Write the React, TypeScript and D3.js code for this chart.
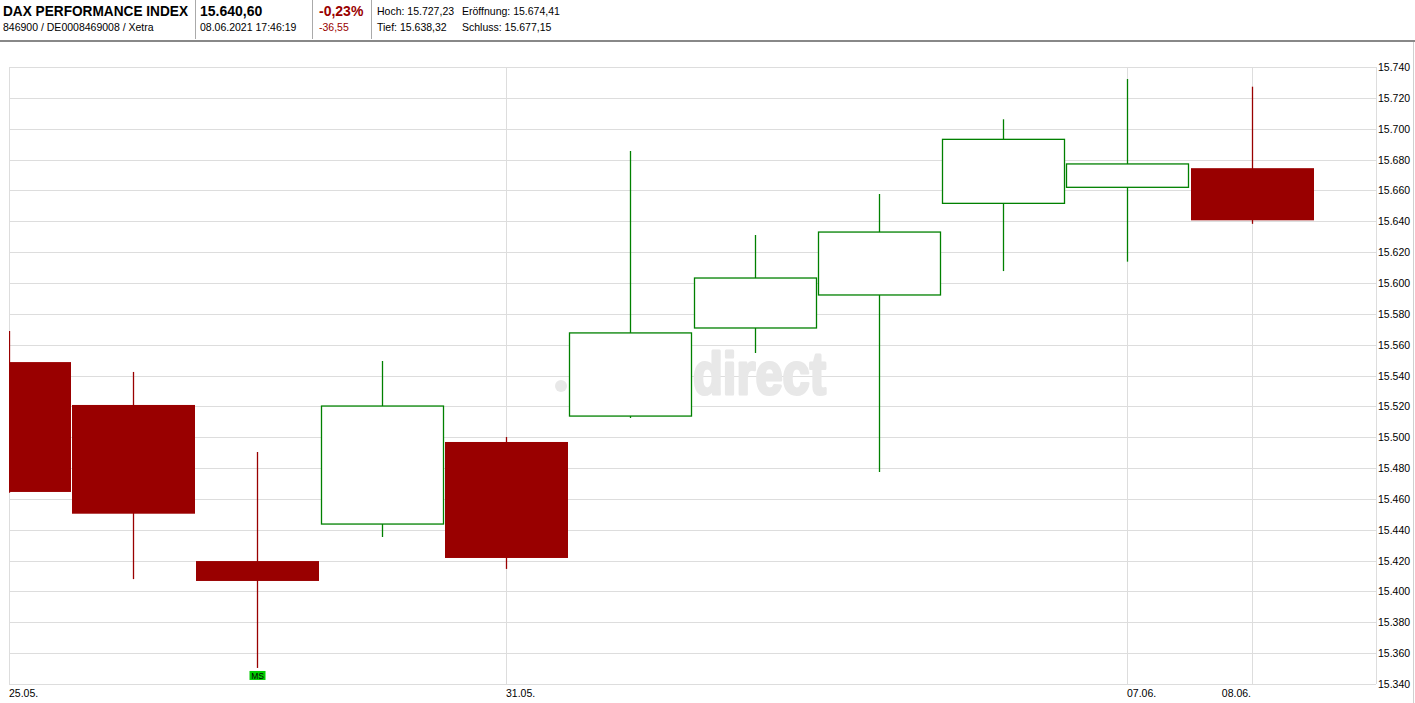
import React from 'react';
import * as d3 from 'd3';

const dates = ['25.05.', '26.05.', '27.05.', '28.05.', '31.05.', '01.06.', '02.06.', '03.06.', '04.06.', '07.06.', '08.06.'];
const opens = [15548.7, 15520.9, 15419.7, 15443.7, 15496.9, 15513.7, 15570.8, 15592.2, 15651.6, 15662.0, 15674.41];
const highs = [15568.8, 15542.3, 15490.4, 15549.4, 15500.1, 15685.5, 15631.1, 15657.7, 15706.1, 15732.2, 15727.23];
const lows = [15464.0, 15408.0, 15350.4, 15435.3, 15414.6, 15512.4, 15554.6, 15477.4, 15607.7, 15613.8, 15638.32];
const closes = [15464.5, 15450.4, 15406.8, 15520.2, 15421.7, 15567.6, 15603.2, 15633.0, 15693.1, 15677.15, 15640.6];
const tickDates = ['25.05.', '31.05.', '07.06.', '08.06.'];
const yTickValues = d3.range(15340, 15741, 20);
const markerDate = '27.05.';
const markerLabel = 'MS';

const FONT = '"Liberation Sans", Arial, sans-serif';
const RED = '#990000';
const GREEN = '#008000';

export default function App() {
  const W = 1415;
  const H = 703;
  const left = 9;
  const right = 1376;
  const top = 67;
  const bottom = 684;

  const x = d3.scaleLinear().domain([0, dates.length - 1]).range([8.9, 1251.7]);
  const y = d3.scaleLinear().domain([15340, 15740]).range([bottom, top]);
  const fmtY = (v: number) => d3.format(',')(v).replace(',', '.');
  const bodyW = 122;

  const candles = dates.map((d, i) => ({
    d, i, o: opens[i], h: highs[i], l: lows[i], c: closes[i],
  }));

  return (
    <svg width={W} height={H} style={{ position: 'absolute', left: 0, top: 0, background: '#fff' }} fontFamily={FONT}>
      <defs>
        <clipPath id="plotClip">
          <rect x={left} y={top - 20} width={right - left} height={bottom - top + 20} />
        </clipPath>
      </defs>
      <rect x={0} y={0} width={W} height={H} fill="#fff" />

      {/* Header */}
      <text x={3} y={16} fontSize={14} fontWeight="bold" fill="#000" textLength={185} lengthAdjust="spacingAndGlyphs">DAX PERFORMANCE INDEX</text>
      <text x={3} y={31} fontSize={10.5} fill="#000">846900 / DE0008469008 / Xetra</text>
      <line x1={195.5} x2={195.5} y1={0} y2={39} stroke="#aaa" />
      <text x={200} y={16} fontSize={14} fontWeight="bold" fill="#000">15.640,60</text>
      <text x={200} y={31} fontSize={10.5} fill="#000">08.06.2021 17:46:19</text>
      <line x1={312.5} x2={312.5} y1={0} y2={39} stroke="#aaa" />
      <text x={319} y={16} fontSize={14} fontWeight="bold" fill={RED}>-0,23%</text>
      <text x={319} y={31} fontSize={10.5} fill={RED}>-36,55</text>
      <line x1={371.5} x2={371.5} y1={0} y2={39} stroke="#aaa" />
      <text x={377} y={15} fontSize={10.5} fill="#000">Hoch: 15.727,23</text>
      <text x={462} y={15} fontSize={10.5} fill="#000">Eröffnung: 15.674,41</text>
      <text x={377} y={31} fontSize={10.5} fill="#000">Tief: 15.638,32</text>
      <text x={462} y={31} fontSize={10.5} fill="#000">Schluss: 15.677,15</text>
      <rect x={0} y={40} width={W} height={2} fill="#888" />
      <line x1={1413.5} x2={1413.5} y1={42} y2={H} stroke="#d0d0d0" />

      {/* Grid */}
      {yTickValues.map((v) => (
        <line key={'g' + v} x1={left} x2={right} y1={Math.round(y(v)) + 0.5} y2={Math.round(y(v)) + 0.5} stroke="#dddddd" />
      ))}
      {tickDates.map((d) => {
        const xx = Math.round(x(dates.indexOf(d))) + 0.5;
        return <line key={'v' + d} x1={xx} x2={xx} y1={top} y2={bottom} stroke="#dddddd" />;
      })}
      <line x1={left + 0.5} x2={left + 0.5} y1={top} y2={bottom} stroke="#dddddd" />
      <line x1={right + 0.5} x2={right + 0.5} y1={top} y2={bottom} stroke="#dddddd" />

      {/* Watermark */}
      <g fill="#e8e8e8" stroke="#e8e8e8">
        <circle cx={561} cy={386} r={6} strokeWidth={0} />
        <text x={826} y={394} fontSize={60} fontWeight="bold" textAnchor="end" strokeWidth={3} strokeLinejoin="round" textLength={133} lengthAdjust="spacingAndGlyphs">direct</text>
      </g>

      {/* Candles */}
      <g clipPath="url(#plotClip)">
        {candles.map((k) => {
          const cx = Math.round(x(k.i)) + 0.5;
          const up = k.c >= k.o;
          const yTop = y(Math.max(k.o, k.c));
          const yBot = y(Math.min(k.o, k.c));
          if (up) {
            return (
              <g key={k.d}>
                <line x1={cx} x2={cx} y1={y(k.h)} y2={y(k.l)} stroke={GREEN} strokeWidth={1.3} />
                <rect x={cx - bodyW / 2} y={yTop} width={bodyW} height={yBot - yTop} fill="#fff" stroke={GREEN} strokeWidth={1.3} />
              </g>
            );
          }
          return (
            <g key={k.d}>
              <line x1={cx} x2={cx} y1={y(k.h)} y2={y(k.l)} stroke={RED} strokeWidth={1.3} />
              <rect x={cx - bodyW / 2 - 0.5} y={yTop} width={bodyW + 1} height={yBot - yTop} fill={RED} />
            </g>
          );
        })}
      </g>

      {/* Marker */}
      {(() => {
        const i = dates.indexOf(markerDate);
        const cx = Math.round(x(i)) + 0.5;
        const yy = y(lows[i]) + 3;
        return (
          <g>
            <rect x={cx - 8} y={yy} width={16} height={9} fill="#00cc00" />
            <text x={cx} y={yy + 8} fontSize={8.5} textAnchor="middle" fill="#000">{markerLabel}</text>
          </g>
        );
      })()}

      {/* Y axis labels */}
      {yTickValues.map((v) => (
        <text key={'t' + v} x={1378} y={y(v) + 4} fontSize={10.5} fill="#000">{fmtY(v)}</text>
      ))}

      {/* X axis labels */}
      {tickDates.map((d, j) => {
        const xx = Math.round(x(dates.indexOf(d)));
        const last = j === tickDates.length - 1;
        return (
          <text key={'x' + d} x={last ? xx - 1 : xx} y={697} fontSize={10.5} textAnchor={last ? 'end' : 'start'} fill="#000">{d}</text>
        );
      })}
    </svg>
  );
}
